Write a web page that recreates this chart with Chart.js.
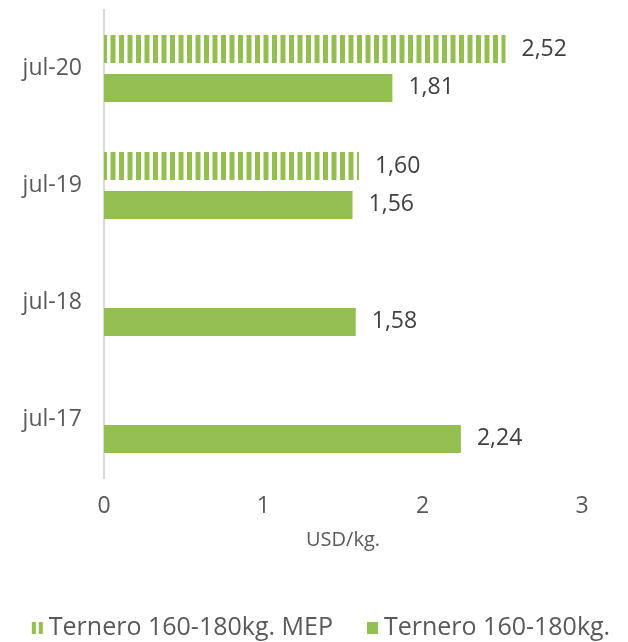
<!DOCTYPE html>
<html>
<head>
<meta charset="utf-8">
<script src="https://cdn.jsdelivr.net/npm/chart.js@4.4.1/dist/chart.umd.min.js"></script>
<style>
  html, body { margin: 0; padding: 0; background: #fff; }
  #wrap { width: 628px; height: 642px; }
</style>
</head>
<body>
<div id="wrap"><canvas id="myChart" width="628" height="642"></canvas></div>
<script>
// data
const categories = ["jul-20", "jul-19", "jul-18", "jul-17"];
const mepValues = [2.52, 1.60, null, null];
const ternValues = [1.81, 1.56, 1.58, 2.24];
const seriesNames = ["Ternero 160-180kg. MEP", "Ternero 160-180kg."];
const xTicks = [0, 1, 2, 3];

const green = "#93bf51";
const fontFamily = "'Open Sans', sans-serif";

// vertical stripes for the MEP bars
function makeStripes() {
  const c = document.createElement("canvas");
  c.width = 17;
  c.height = 10;
  const g = c.getContext("2d");
  g.fillStyle = green;
  g.fillRect(0, 0, 5, 10);
  g.fillRect(8.5, 0, 5, 10);
  return g.createPattern(c, "repeat");
}
const stripes = makeStripes();

function fmt(v) {
  return v.toFixed(2).replace(".", ",");
}

// value labels at the end of each bar
const valueLabels = {
  id: "valueLabels",
  afterDatasetsDraw(chart) {
    const ctx = chart.ctx;
    ctx.save();
    ctx.font = "23px " + fontFamily;
    ctx.fillStyle = "#404040";
    ctx.textAlign = "left";
    ctx.textBaseline = "middle";
    chart.data.datasets.forEach(function (ds, i) {
      const meta = chart.getDatasetMeta(i);
      meta.data.forEach(function (bar, j) {
        const v = ds.data[j];
        if (v === null) return;
        ctx.fillText(fmt(v), bar.x + 16, bar.y);
      });
    });
    ctx.restore();
  }
};

// legend drawn by hand so spacing matches the original
const bottomLegend = {
  id: "bottomLegend",
  afterDraw(chart) {
    const ctx = chart.ctx;
    ctx.save();
    ctx.font = "25px " + fontFamily;
    ctx.textBaseline = "middle";
    ctx.textAlign = "left";
    const box = 11, gap = 6, between = 34;
    const w0 = ctx.measureText(seriesNames[0]).width;
    const w1 = ctx.measureText(seriesNames[1]).width;
    const total = box + gap + w0 + between + box + gap + w1;
    let x = 321 - total / 2;
    const y = 628;
    // MEP marker: two thin stripes
    ctx.fillStyle = green;
    ctx.fillRect(x, y - 6, 4, 12);
    ctx.fillRect(x + 7, y - 6, 4, 12);
    x += box + gap;
    ctx.fillStyle = "#595959";
    ctx.fillText(seriesNames[0], x, y);
    x += w0 + between;
    ctx.fillStyle = green;
    ctx.fillRect(x, y - 6, box, 12);
    x += box + gap;
    ctx.fillStyle = "#595959";
    ctx.fillText(seriesNames[1], x, y);
    ctx.restore();
  }
};

const ctx = document.getElementById("myChart").getContext("2d");
const myChart = new Chart(ctx, {
  type: "bar",
  data: {
    labels: categories,
    datasets: [
      {
        label: seriesNames[0],
        data: mepValues,
        backgroundColor: stripes,
        borderWidth: 0,
        categoryPercentage: 0.664,
        barPercentage: 0.72,
      },
      {
        label: seriesNames[1],
        data: ternValues,
        backgroundColor: green,
        borderWidth: 0,
        categoryPercentage: 0.664,
        barPercentage: 0.72,
      },
    ],
  },
  options: {
    indexAxis: "y",
    responsive: false,
    animation: false,
    layout: { padding: { top: 10, right: 46, left: 0, bottom: 84 } },
    plugins: {
      tooltip: { enabled: false },
      legend: { display: false },
    },
    scales: {
      x: {
        min: 0,
        max: 3,
        afterBuildTicks: function (axis) {
          axis.ticks = xTicks.map(function (v) { return { value: v }; });
        },
        grid: { display: false, drawTicks: false },
        border: { display: false },
        ticks: {
          color: "#595959",
          font: { family: fontFamily, size: 23 },
          padding: 15,
        },
        title: {
          display: true,
          text: "USD/kg.",
          color: "#595959",
          font: { family: fontFamily, size: 20 },
          padding: { top: 8, bottom: 6 },
        },
        afterFit: function (axis) { axis.height = 80; },
      },
      y: {
        grid: { display: false, drawTicks: false },
        border: { display: true, color: "#d9d9d9", width: 2 },
        ticks: {
          color: "#595959",
          font: { family: fontFamily, size: 23 },
          padding: 22,
        },
        afterFit: function (axis) {
          axis.width = 104;
          axis.paddingTop = 0;
          axis.paddingBottom = 0;
        },
      },
    },
  },
  plugins: [valueLabels, bottomLegend],
});
</script>
</body>
</html>
